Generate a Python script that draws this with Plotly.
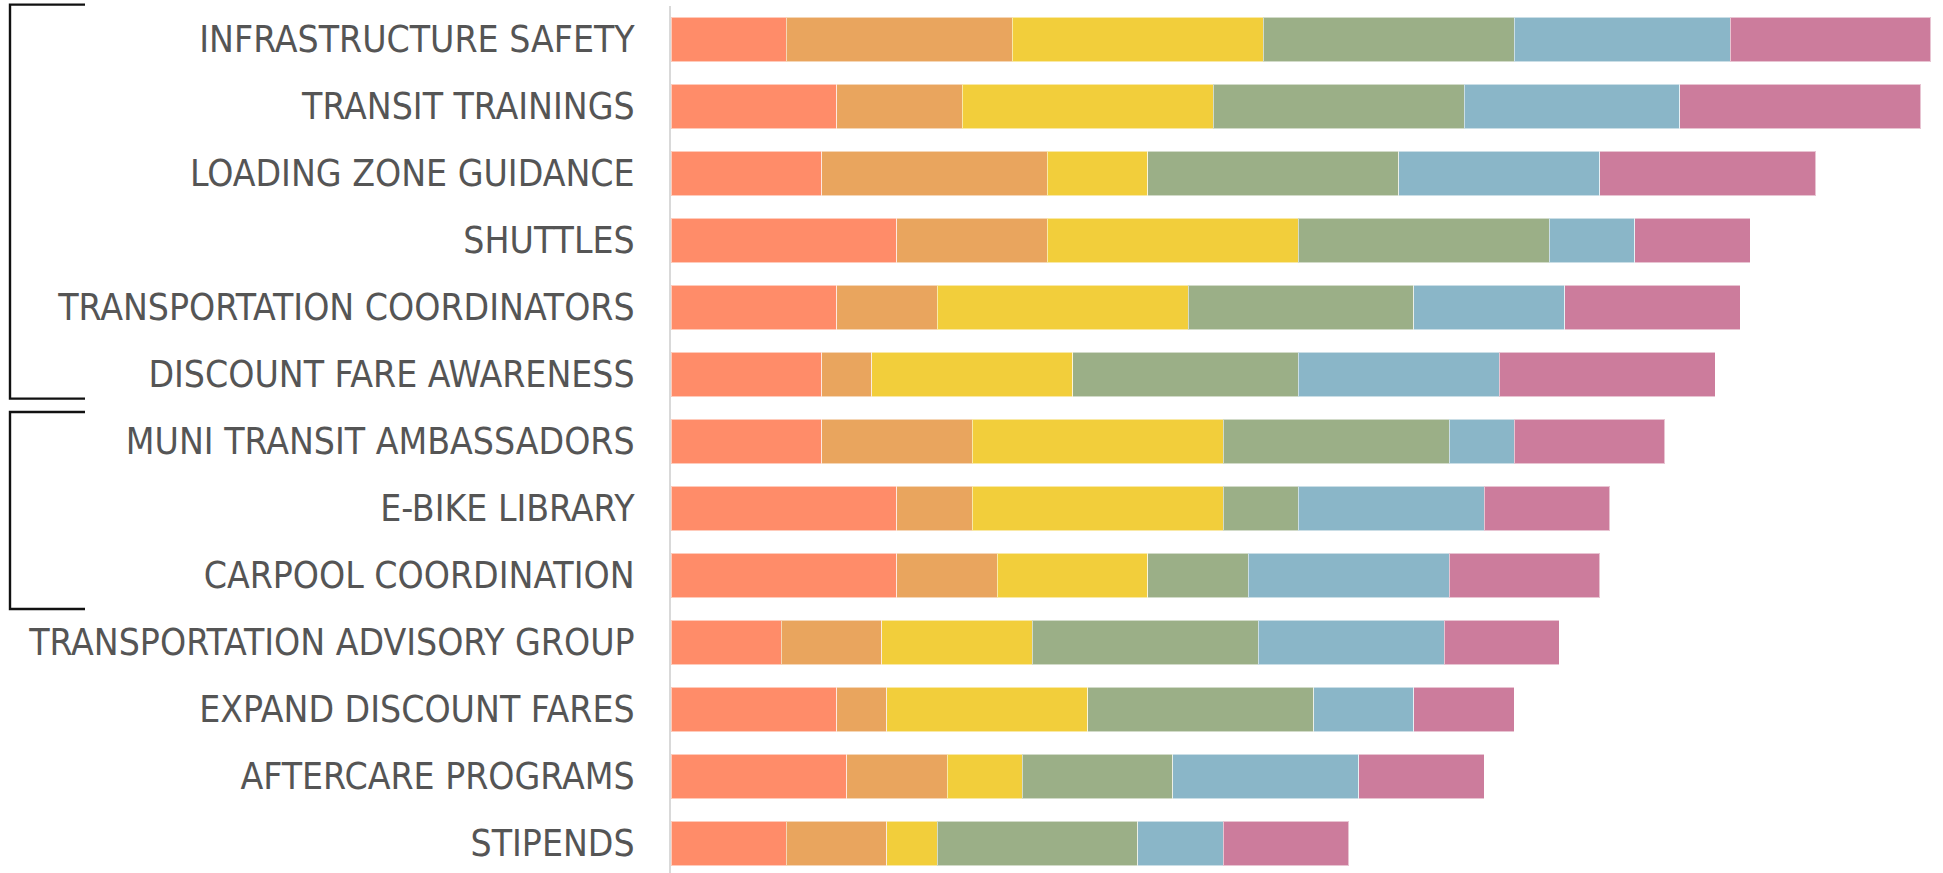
import plotly.graph_objects as go

categories = [
    "INFRASTRUCTURE SAFETY",
    "TRANSIT TRAININGS",
    "LOADING ZONE GUIDANCE",
    "SHUTTLES",
    "TRANSPORTATION COORDINATORS",
    "DISCOUNT FARE AWARENESS",
    "MUNI TRANSIT AMBASSADORS",
    "E-BIKE LIBRARY",
    "CARPOOL COORDINATION",
    "TRANSPORTATION ADVISORY GROUP",
    "EXPAND DISCOUNT FARES",
    "AFTERCARE PROGRAMS",
    "STIPENDS",
]

series_names = ["Group 1", "Group 2", "Group 3", "Group 4", "Group 5", "Group 6"]

s1 = [4.6, 6.6, 6.0, 9.0, 6.6, 6.0, 6.0, 9.0, 9.0, 4.4, 6.6, 7.0, 4.6]
s2 = [9.0, 5.0, 9.0, 6.0, 4.0, 2.0, 6.0, 3.0, 4.0, 4.0, 2.0, 4.0, 4.0]
s3 = [10.0, 10.0, 4.0, 10.0, 10.0, 8.0, 10.0, 10.0, 6.0, 6.0, 8.0, 3.0, 2.0]
s4 = [10.0, 10.0, 10.0, 10.0, 9.0, 9.0, 9.0, 3.0, 4.0, 9.0, 9.0, 6.0, 8.0]
s5 = [8.6, 8.6, 8.0, 3.4, 6.0, 8.0, 2.6, 7.4, 8.0, 7.4, 4.0, 7.4, 3.4]
s6 = [8.0, 9.6, 8.6, 4.6, 7.0, 8.6, 6.0, 5.0, 6.0, 4.6, 4.0, 5.0, 5.0]

series_values = [s1, s2, s3, s4, s5, s6]
colors = ["#FF8C69", "#E9A55E", "#F2CE3B", "#9BAF87", "#8AB6C8", "#CC7C9C"]

# bracket groups: (top, bottom) in category-index units
brackets = [(-0.52, 5.36), (5.56, 8.50)]

W, H = 1943, 873
ML, MR, MT, MB = 671, 0, 6, 0
x_max = 50.68
y_range = [12.44, -0.5]

fig = go.Figure()
for name, vals, col in zip(series_names, series_values, colors):
    fig.add_trace(go.Bar(
        y=categories, x=vals, name=name, orientation="h",
        marker=dict(color=col, line=dict(color="rgba(255,255,255,0.55)", width=1)),
        hoverinfo="skip",
    ))

def px_to_paper(px):
    return (px - ML) / (W - ML - MR)

def cat_to_paper(c):
    return (y_range[0] - c) / (y_range[0] - y_range[1])

shapes = []
for top, bot in brackets:
    x0 = px_to_paper(10)
    x1 = px_to_paper(85)
    yt = cat_to_paper(top)
    yb = cat_to_paper(bot)
    shapes.append(dict(type="path", xref="paper", yref="paper",
                       path=f"M {x1},{yt} L {x0},{yt} L {x0},{yb} L {x1},{yb}",
                       line=dict(color="#111111", width=2.4)))

fig.update_layout(
    barmode="stack",
    width=W, height=H,
    margin=dict(l=ML, r=MR, t=MT, b=MB, pad=0),
    paper_bgcolor="white", plot_bgcolor="white",
    showlegend=False,
    bargap=0.334,
    shapes=shapes,
    font=dict(family="Liberation Sans Narrow, Arial Narrow, DejaVu Sans Condensed, sans-serif",
              color="#555555"),
)
fig.update_xaxes(range=[0, x_max], showgrid=False, zeroline=False,
                 showticklabels=False, showline=False, fixedrange=True)
fig.update_yaxes(categoryorder="array", categoryarray=categories,
                 range=y_range,
                 showgrid=False, zeroline=False, showline=True,
                 linecolor="#d9d9d9", linewidth=2,
                 ticks="outside", ticklen=27, tickcolor="rgba(0,0,0,0)",
                 tickfont=dict(size=37, color="#555555"), fixedrange=True)

fig.write_html("out.html", post_script="document.body.style.margin='0px';",
               config={"displayModeBar": False})
